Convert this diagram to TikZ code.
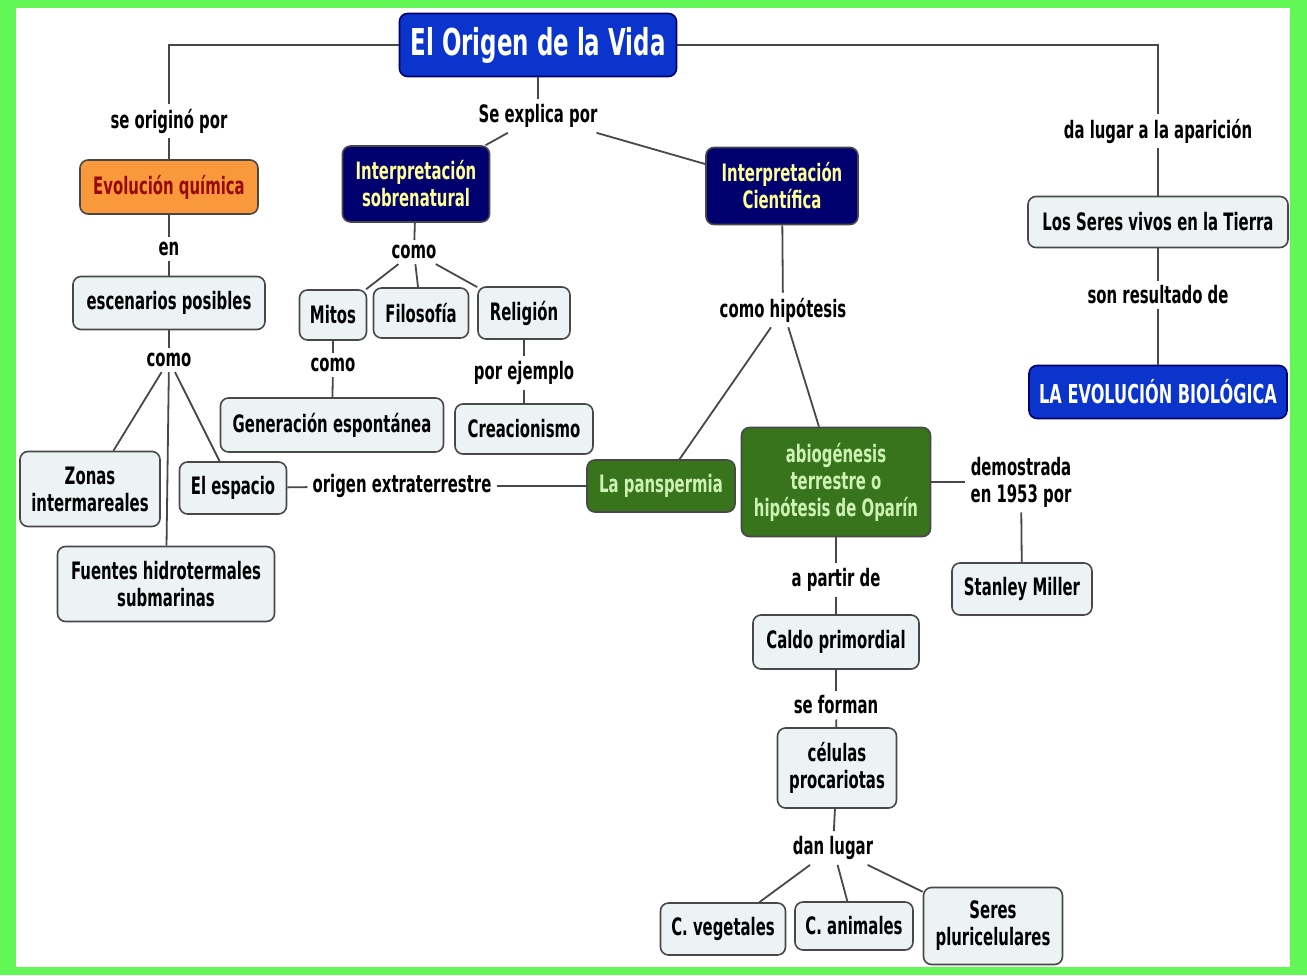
\documentclass[tikz,border=0pt]{standalone}
\usepackage{fontspec}
\setmainfont{DejaVu Sans}[FakeStretch=0.62]
\definecolor{marco}{RGB}{98,246,86}
\definecolor{gris}{RGB}{72,72,72}
\definecolor{cajafill}{RGB}{237,242,244}
\definecolor{azul}{RGB}{10,52,204}
\definecolor{azuloscuro}{RGB}{0,0,110}
\definecolor{verde}{RGB}{56,116,28}
\definecolor{naranja}{RGB}{250,152,60}
\definecolor{rojo}{RGB}{150,10,10}
\definecolor{amarillo}{RGB}{255,255,150}
\definecolor{verdeclaro}{RGB}{205,242,180}
\begin{document}
\begin{tikzpicture}[x=1pt,y=-1pt,
	every node/.style={font=\bfseries\fontsize{24}{27}\selectfont,align=center},
	caja/.style={draw=gris,line width=1.6pt,rounded corners=8pt,fill=cajafill,inner sep=0pt},
	enlace/.style={inner sep=5pt},
	linea/.style={draw=gris,line width=1.8pt}]
		\useasboundingbox (0,0) rectangle (1307,975);
		\fill[marco] (0,0) rectangle (1307,975);
		\fill[white] (16,8) rectangle (1290,967);
		\node[caja,fill=azul,draw=azuloscuro,text=white,minimum width=277,minimum height=63,font=\bfseries\fontsize{37}{40}\selectfont] (title) at (538,45) {El Origen de la Vida};
		\node[enlace] (seorig) at (169,121) {se originó por};
		\node[caja,fill=naranja,text=rojo,minimum width=178,minimum height=54] (evq) at (169,187) {Evolución química};
		\node[enlace] (en) at (169,249) {en};
		\node[caja,minimum width=192,minimum height=53] (esc) at (169,303) {escenarios posibles};
		\node[enlace] (como1) at (169,360) {como};
		\node[caja,minimum width=140,minimum height=75] (zonas) at (90,489) {Zonas\\intermareales};
		\node[caja,minimum width=107,minimum height=52] (espacio) at (233,488) {El espacio};
		\node[caja,minimum width=217,minimum height=75] (fuentes) at (166,584) {Fuentes hidrotermales\\submarinas};
		\node[enlace] (sexp) at (538,116) {Se explica por};
		\node[caja,fill=azuloscuro,draw=gris,text=amarillo,minimum width=147,minimum height=76] (isob) at (416,184) {Interpretación\\sobrenatural};
		\node[enlace] (como2) at (414,252) {como};
		\node[caja,minimum width=67,minimum height=50] (mitos) at (333,315) {Mitos};
		\node[caja,minimum width=95,minimum height=50] (filo) at (421,313) {Filosofía};
		\node[caja,minimum width=92,minimum height=52] (reli) at (524,313) {Religión};
		\node[enlace] (como3) at (333,365) {como};
		\node[caja,minimum width=223,minimum height=54] (genesp) at (332,425) {Generación espontánea};
		\node[enlace] (porej) at (524,373) {por ejemplo};
		\node[caja,minimum width=138,minimum height=50] (creac) at (524,429) {Creacionismo};
		\node[enlace] (origext) at (402,486) {origen extraterrestre};
		\node[caja,fill=verde,text=verdeclaro,minimum width=148,minimum height=52] (pansp) at (661,486) {La panspermia};
		\node[caja,fill=verde,text=verdeclaro,minimum width=189,minimum height=109] (abio) at (836,482) {abiogénesis\\terrestre o\\hipótesis de Oparín};
		\node[caja,fill=azuloscuro,draw=gris,text=amarillo,minimum width=152,minimum height=77] (icien) at (782,186) {Interpretación\\Científica};
		\node[enlace] (comohip) at (783,310) {como hipótesis};
		\node[enlace] (demo) at (1021,482) {demostrada\\en 1953 por};
		\node[caja,minimum width=140,minimum height=52] (miller) at (1022,589) {Stanley Miller};
		\node[enlace] (apartir) at (836,580) {a partir de};
		\node[caja,minimum width=166,minimum height=54] (caldo) at (836,642) {Caldo primordial};
		\node[enlace] (seforman) at (836,705) {se forman};
		\node[caja,minimum width=119,minimum height=80] (celulas) at (837,768) {células\\procariotas};
		\node[enlace] (danlugar) at (833,848) {dan lugar};
		\node[caja,minimum width=125,minimum height=52] (cveg) at (723,929) {C. vegetales};
		\node[caja,minimum width=118,minimum height=48] (cani) at (854,926) {C. animales};
		\node[caja,minimum width=139,minimum height=77] (seresp) at (993,926) {Seres\\pluricelulares};
		\node[enlace] (dalugar) at (1158,131) {da lugar a la aparición};
		\node[caja,minimum width=260,minimum height=51] (seres) at (1158,222) {Los Seres vivos en la Tierra};
		\node[enlace] (sonres) at (1158,295) {son resultado de};
		\node[caja,fill=azul,draw=azuloscuro,text=white,minimum width=258,minimum height=53,font=\bfseries\fontsize{26}{28}\selectfont] (evob) at (1158,392) {LA EVOLUCIÓN BIOLÓGICA};
		\draw[linea] (title.west) -| (seorig);
		\draw[linea] (seorig) -- (evq);
		\draw[linea] (evq) -- (en);
		\draw[linea] (en) -- (esc);
		\draw[linea] (esc) -- (como1);
		\draw[linea] (como1) -- (zonas);
		\draw[linea] (como1) -- (fuentes);
		\draw[linea] (como1) -- (espacio);
		\draw[linea] (espacio) -- (origext);
		\draw[linea] (origext) -- (pansp);
		\draw[linea] (title) -- (sexp);
		\draw[linea] (sexp) -- (isob);
		\draw[linea] (sexp) -- (icien);
		\draw[linea] (isob) -- (como2);
		\draw[linea] (como2) -- (mitos);
		\draw[linea] (como2) -- (filo);
		\draw[linea] (como2) -- (reli);
		\draw[linea] (mitos) -- (como3);
		\draw[linea] (como3) -- (genesp);
		\draw[linea] (reli) -- (porej);
		\draw[linea] (porej) -- (creac);
		\draw[linea] (icien) -- (comohip);
		\draw[linea] (comohip) -- (pansp);
		\draw[linea] (comohip) -- (abio);
		\draw[linea] (abio) -- (demo);
		\draw[linea] (demo) -- (miller);
		\draw[linea] (abio) -- (apartir);
		\draw[linea] (apartir) -- (caldo);
		\draw[linea] (caldo) -- (seforman);
		\draw[linea] (seforman) -- (celulas);
		\draw[linea] (celulas) -- (danlugar);
		\draw[linea] (danlugar) -- (cveg);
		\draw[linea] (danlugar) -- (cani);
		\draw[linea] (danlugar) -- (seresp);
		\draw[linea] (title.east) -| (dalugar);
		\draw[linea] (dalugar) -- (seres);
		\draw[linea] (seres) -- (sonres);
		\draw[linea] (sonres) -- (evob);
		\end{tikzpicture}
\end{document}
